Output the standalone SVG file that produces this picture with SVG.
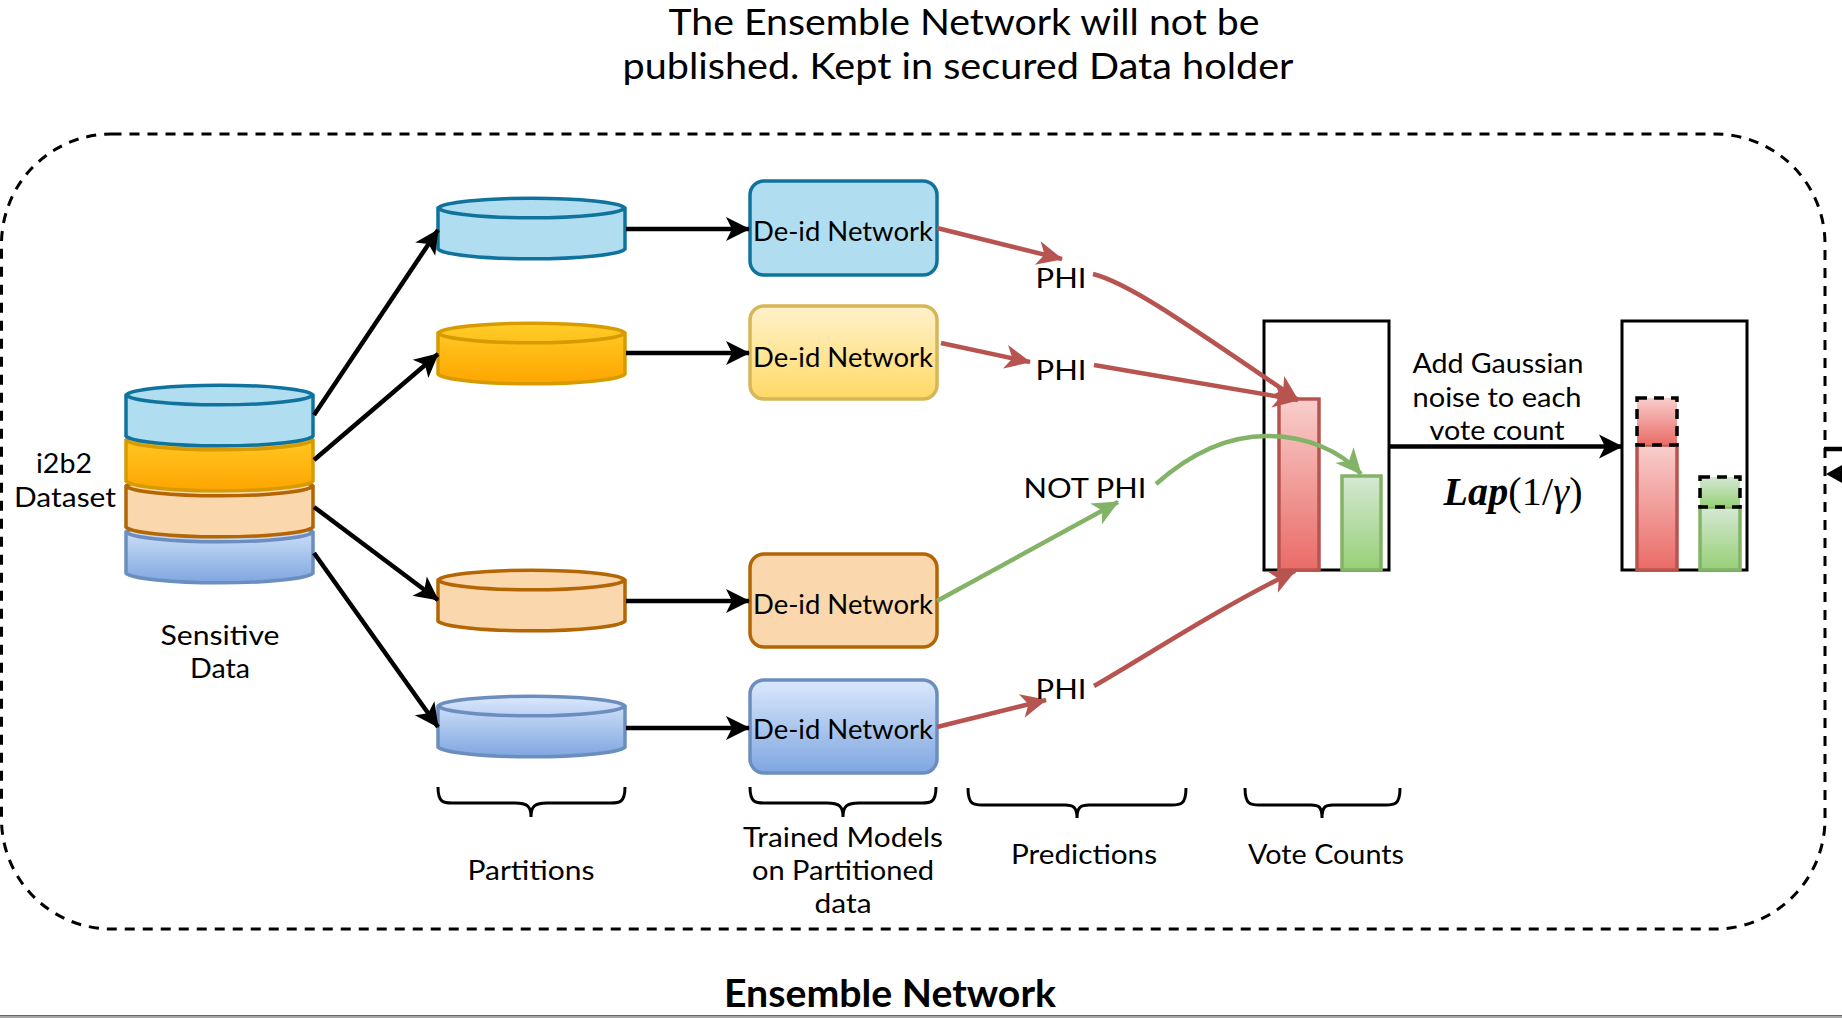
<svg xmlns="http://www.w3.org/2000/svg" width="1842" height="1018" viewBox="0 0 1842 1018">
<style>
text{font-family:"Lato","Noto Sans","Liberation Sans",sans-serif;font-size:27px;fill:#000;text-anchor:middle;dominant-baseline:central}
.title{font-size:36px}
.bold{font-size:38px;font-weight:700}
.math{font-family:"Liberation Serif",serif;font-size:40px}
.k{fill:none;stroke:#000;stroke-width:4.5}
.r{fill:none;stroke:#b85450;stroke-width:4.5}
.g{fill:none;stroke:#82b366;stroke-width:4.5}
.brace{fill:none;stroke:#000;stroke-width:3}
.cyl{stroke-width:3.5}
.blue{fill:#b1ddf0;stroke:#10739e}
.yel{fill:url(#gy);stroke:#d79b00}
.pch{fill:#fad7ac;stroke:#b46504}
.per{fill:url(#gp);stroke:#6c8ebf}
.bar{stroke-width:3.5}
.red{fill:url(#gr);stroke:#b85450}
.grn{fill:url(#gg);stroke:#82b366}
.dash{fill:none;stroke:#000;stroke-width:3.5;stroke-dasharray:10 7}
</style>
<defs>
<linearGradient id="gy" x1="0" y1="0" x2="0" y2="1"><stop offset="0" stop-color="#ffcd28"/><stop offset="1" stop-color="#ffa500"/></linearGradient>
<linearGradient id="gp" x1="0" y1="0" x2="0" y2="1"><stop offset="0" stop-color="#dae8fc"/><stop offset="1" stop-color="#7ea6e0"/></linearGradient>
<linearGradient id="gb" x1="0" y1="0" x2="0" y2="1"><stop offset="0" stop-color="#fff2cc"/><stop offset="1" stop-color="#ffd966"/></linearGradient>
<linearGradient id="gr" x1="0" y1="0" x2="0" y2="1"><stop offset="0" stop-color="#f8cecc"/><stop offset="1" stop-color="#ea6b66"/></linearGradient>
<linearGradient id="gg" x1="0" y1="0" x2="0" y2="1"><stop offset="0" stop-color="#d5e8d4"/><stop offset="1" stop-color="#97d077"/></linearGradient>
<marker id="ak" markerUnits="userSpaceOnUse" markerWidth="26" markerHeight="28" refX="24" refY="14" orient="auto"><path d="M1 2L25 14L1 26L7 14Z" fill="#000"/></marker>
<marker id="ar" markerUnits="userSpaceOnUse" markerWidth="28" markerHeight="28" refX="26" refY="14" orient="auto"><path d="M1 2L27 14L1 26L8 14Z" fill="#b85450"/></marker>
<marker id="ag" markerUnits="userSpaceOnUse" markerWidth="28" markerHeight="28" refX="26" refY="14" orient="auto"><path d="M1 2L27 14L1 26L8 14Z" fill="#82b366"/></marker>
<g id="c"><path d="M0 11A94 11 0 0 1 187 11V52A94 11 0 0 1 0 52Z"/><path fill="none" d="M0 11A94 11 0 0 0 187 11"/></g>
</defs>
<rect x="0" y="1015" width="1842" height="3" fill="#a6a6a6"/>
<rect x="0" y="1015" width="1842" height="1" fill="#666"/>
<g id="ensemble-frame"><rect x="1.5" y="134" width="1823.5" height="795" rx="110" ry="110" fill="none" stroke="#000" stroke-width="3" stroke-dasharray="10 8"/></g>

<g id="stack">
<use href="#c" x="126" y="521" class="cyl per"/>
<use href="#c" x="126" y="475" class="cyl pch"/>
<use href="#c" x="126" y="429" class="cyl yel"/>
<use href="#c" x="126" y="384" class="cyl blue"/>
</g>
<g id="part-1"><use href="#c" x="438" y="197" class="cyl blue"/></g>
<g id="part-2"><use href="#c" x="438" y="322" class="cyl yel"/></g>
<g id="part-3"><use href="#c" x="438" y="569" class="cyl pch"/></g>
<g id="part-4"><use href="#c" x="438" y="695" class="cyl per"/></g>

<g id="net-1"><rect x="750" y="181" width="187" height="94" rx="14" fill="#b1ddf0" stroke="#10739e" stroke-width="3.5"/><text x="843" y="230" textLength="180" lengthAdjust="spacingAndGlyphs">De-id Network</text></g>
<g id="net-2"><rect x="750" y="306" width="187" height="93" rx="14" fill="url(#gb)" stroke="#d6b656" stroke-width="3.5"/><text x="843" y="356" textLength="180" lengthAdjust="spacingAndGlyphs">De-id Network</text></g>
<g id="net-3"><rect x="750" y="554" width="187" height="93" rx="14" fill="#fad7ac" stroke="#b46504" stroke-width="3.5"/><text x="843" y="603" textLength="180" lengthAdjust="spacingAndGlyphs">De-id Network</text></g>
<g id="net-4"><rect x="750" y="680" width="187" height="93" rx="14" fill="url(#gp)" stroke="#6c8ebf" stroke-width="3.5"/><text x="843" y="728" textLength="180" lengthAdjust="spacingAndGlyphs">De-id Network</text></g>

<g id="votes-1">
<rect x="1264" y="321" width="125" height="249" fill="#fff" stroke="#000" stroke-width="3"/>
<rect x="1279" y="399" width="40" height="171" class="bar red"/>
<rect x="1342" y="476" width="39" height="94" class="bar grn"/>
</g>
<g id="votes-2">
<rect x="1622" y="321" width="125" height="249" fill="#fff" stroke="#000" stroke-width="3"/>
<rect x="1637" y="445" width="40" height="125" class="bar red"/>
<rect x="1700" y="507" width="40" height="63" class="bar grn"/>
<rect x="1637" y="398" width="40" height="47" fill="url(#gr)"/>
<rect x="1637" y="398" width="40" height="47" class="dash"/>
<rect x="1700" y="477" width="40" height="30" fill="url(#gg)"/>
<rect x="1700" y="477" width="40" height="30" class="dash"/>
</g>

<g id="connectors">
<path class="k" marker-end="url(#ak)" d="M314 415L438 230"/>
<path class="k" marker-end="url(#ak)" d="M314 460L438 354"/>
<path class="k" marker-end="url(#ak)" d="M314 507L438 600"/>
<path class="k" marker-end="url(#ak)" d="M314 553L438 727"/>
<path class="k" marker-end="url(#ak)" d="M626 229H749"/>
<path class="k" marker-end="url(#ak)" d="M626 353H749"/>
<path class="k" marker-end="url(#ak)" d="M626 601H749"/>
<path class="k" marker-end="url(#ak)" d="M626 728H749"/>
<path class="k" marker-end="url(#ak)" d="M1389 446.500H1622"/>
<path class="r" marker-end="url(#ar)" d="M937 228L1062 259"/>
<path class="r" marker-end="url(#ar)" d="M941 343L1030 362"/>
<path class="g" marker-end="url(#ag)" d="M937 601L1118 502"/>
<path class="r" marker-end="url(#ar)" d="M937 727L1046 700"/>
<path class="r" marker-end="url(#ar)" d="M1093 274C1125 282 1170 312 1298 400"/>
<path class="r" marker-end="url(#ar)" d="M1094 365L1298 400"/>
<path class="g" marker-end="url(#ag)" d="M1156 484C1200 445 1240 436 1267 436C1305 436 1340 450 1361 474"/>
<path class="r" marker-end="url(#ar)" d="M1094 686C1140 660 1215 610 1295 571"/>
<path class="k" d="M1824 449H1842"/>
<path fill="#000" d="M1826 474L1842 465V483Z"/>
<path class="brace" d="M438 787C438 803 444 803 452 803H515C527 803 531 806 531 817C531 806 535 803 547 803H611C619 803 625 803 625 787"/>
<path class="brace" d="M750 787C750 803 756 803 764 803H827C839 803 843 806 843 817C843 806 847 803 859 803H922C930 803 936 803 936 787"/>
<path class="brace" d="M968 788C968 805 974 805 982 805H1065C1073 805 1077 807 1077 818C1077 807 1081 805 1089 805H1172C1180 805 1186 805 1186 788"/>
<path class="brace" d="M1245 788C1245 805 1251 805 1259 805H1311C1319 805 1322 807 1322 818C1322 807 1325 805 1333 805H1386C1394 805 1400 805 1400 788"/>
</g>

<g id="labels">
<text class="title" x="964" y="21" textLength="591" lengthAdjust="spacingAndGlyphs">The Ensemble Network will not be</text>
<text class="title" x="958" y="65" textLength="671" lengthAdjust="spacingAndGlyphs">published. Kept in secured Data holder</text>
<text x="64" y="462" textLength="56" lengthAdjust="spacingAndGlyphs">i2b2</text>
<text x="65" y="496" textLength="102" lengthAdjust="spacingAndGlyphs">Dataset</text>
<text x="220" y="634" textLength="119" lengthAdjust="spacingAndGlyphs">Sensitive</text>
<text x="220" y="667" textLength="60" lengthAdjust="spacingAndGlyphs">Data</text>
<text x="1061" y="277" textLength="51" lengthAdjust="spacingAndGlyphs">PHI</text>
<text x="1061" y="369" textLength="51" lengthAdjust="spacingAndGlyphs">PHI</text>
<text x="1085" y="487" textLength="123" lengthAdjust="spacingAndGlyphs">NOT PHI</text>
<text x="1061" y="688" textLength="51" lengthAdjust="spacingAndGlyphs">PHI</text>
<text x="1498" y="362" textLength="171" lengthAdjust="spacingAndGlyphs">Add Gaussian</text>
<text x="1497" y="396" textLength="169" lengthAdjust="spacingAndGlyphs">noise to each</text>
<text x="1497" y="429" textLength="135" lengthAdjust="spacingAndGlyphs">vote count</text>
<text class="math" x="1513" y="491" textLength="139"><tspan font-style="italic" font-weight="700">Lap</tspan>(1/<tspan font-style="italic">γ</tspan>)</text>
<text x="531" y="869" textLength="127" lengthAdjust="spacingAndGlyphs">Partitions</text>
<text x="843" y="836" textLength="200" lengthAdjust="spacingAndGlyphs">Trained Models</text>
<text x="843" y="869" textLength="182" lengthAdjust="spacingAndGlyphs">on Partitioned</text>
<text x="843" y="902" textLength="57" lengthAdjust="spacingAndGlyphs">data</text>
<text x="1084" y="853" textLength="146" lengthAdjust="spacingAndGlyphs">Predictions</text>
<text x="1326" y="853" textLength="156" lengthAdjust="spacingAndGlyphs">Vote Counts</text>
<text class="bold" x="890" y="992" textLength="332" lengthAdjust="spacingAndGlyphs">Ensemble Network</text>
</g>
</svg>
